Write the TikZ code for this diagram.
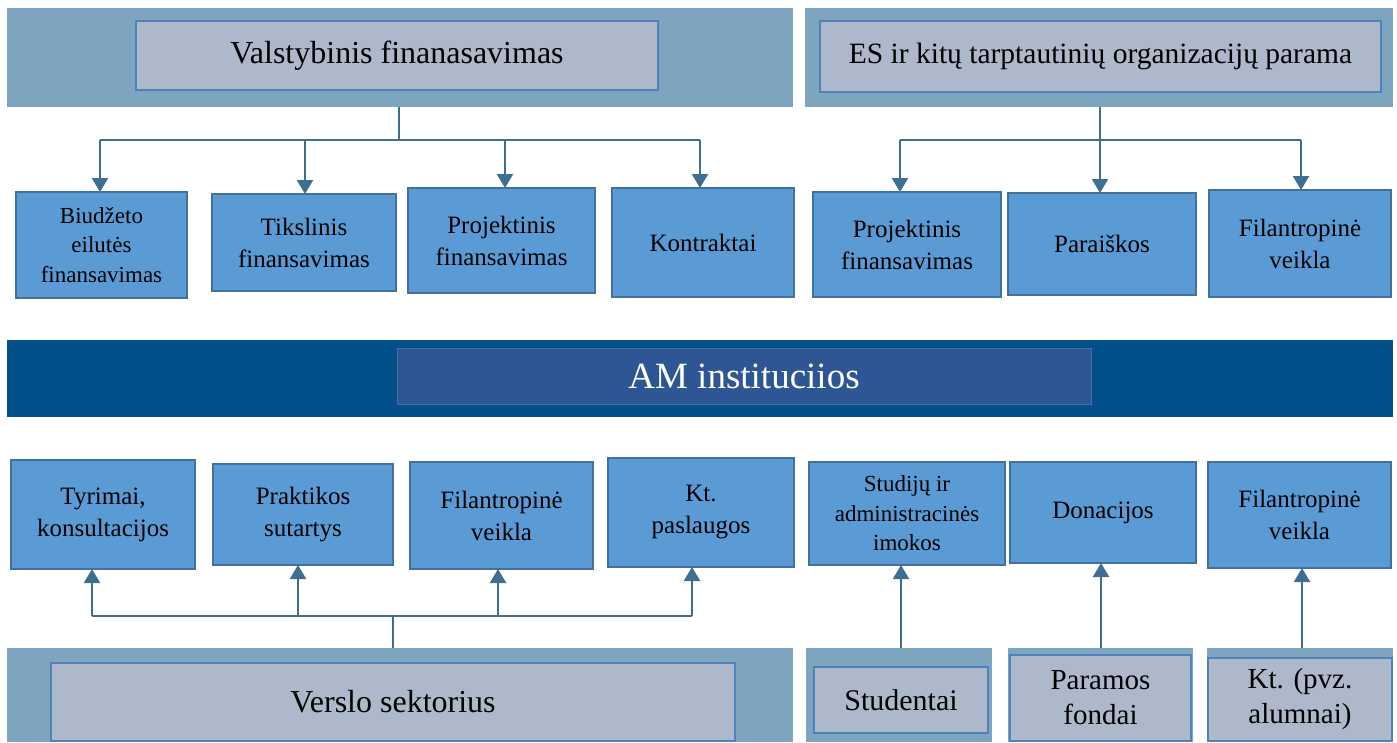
\documentclass[tikz,border=0pt]{standalone}
\usepackage{fontspec}
\setmainfont{Liberation Serif}
\usetikzlibrary{arrows.meta}
\definecolor{bandc}{RGB}{126,165,192}
\definecolor{grayc}{RGB}{173,185,202}
\definecolor{grayb}{RGB}{79,129,189}
\definecolor{bluec}{RGB}{91,155,213}
\definecolor{blueb}{RGB}{65,113,156}
\definecolor{darkc}{RGB}{2,80,138}
\definecolor{darkin}{RGB}{46,85,148}
\definecolor{darkinb}{RGB}{70,110,170}
\definecolor{linec}{RGB}{62,110,145}
\newcommand\rbox[7]{\node[#6, minimum width={(#4-#2)*1pt}, minimum height={(#5-#3)*1pt}] (#1) at ({(#2+#4)/2},{(#3+#5)/2}) {#7};}
\tikzset{
  base/.style={rectangle, inner sep=0pt, outer sep=0pt, align=center, text=black},
  band/.style={base, fill=bandc, draw=none},
  graybox/.style={base, fill=grayc, draw=grayb, line width=1.5pt},
  bluebox/.style={base, fill=bluec, draw=blueb, line width=1.5pt, font=\fontsize{25}{32}\selectfont},
  smallbox/.style={bluebox, font=\fontsize{23}{29.5}\selectfont},
  conn/.style={draw=linec, line width=2.2pt},
  arr/.style={conn, -{Triangle[width=16pt,length=14pt]}},
}
\begin{document}
\begin{tikzpicture}[x=1pt,y=-1pt]
\useasboundingbox (0,0) rectangle (1397,742);
% top bands
\rbox{bandL}{7}{8}{793}{107}{band}{}
\rbox{bandR}{805}{8}{1393}{107}{band}{}
\rbox{vf}{136}{21}{658}{90}{graybox, font=\fontsize{32}{38}\selectfont}{Valstybinis finanasavimas}
\rbox{es}{820}{21}{1381}{92}{graybox, font=\fontsize{29.5}{36}\selectfont}{ES ir kitų tarptautinių organizacijų parama}
% top row boxes
\rbox{b1}{16}{192}{187}{298}{smallbox}{Biudžeto\\eilutės\\finansavimas}
\rbox{b2}{212}{194}{396}{291}{bluebox}{Tikslinis\\finansavimas}
\rbox{b3}{408}{188}{595}{293}{bluebox}{Projektinis\\finansavimas}
\rbox{b4}{612}{188}{794}{297}{bluebox}{Kontraktai}
\rbox{b5}{813}{192}{1001}{297}{bluebox}{Projektinis\\finansavimas}
\rbox{b6}{1008}{193}{1196}{295}{bluebox}{Paraiškos}
\rbox{b7}{1209}{190}{1391}{297}{bluebox}{Filantropinė\\veikla}
% AM band
\rbox{amband}{7}{340}{1393}{417}{base, fill=darkc}{}
\rbox{am}{397}{348}{1091}{404}{base, fill=darkin, draw=darkinb, line width=1pt, text=white, font=\fontsize{37}{44}\selectfont}{AM instituciios}
% bottom row boxes
\rbox{c1}{11}{460}{195}{569}{bluebox}{Tyrimai,\\konsultacijos}
\rbox{c2}{213}{464}{393}{565}{bluebox}{Praktikos\\sutartys}
\rbox{c3}{410}{462}{593}{569}{bluebox}{Filantropinė\\veikla}
\rbox{c4}{608}{458}{794}{567}{bluebox}{Kt.\\paslaugos}
\rbox{c5}{809}{462}{1005}{565}{smallbox}{Studijų ir\\administracinės\\imokos}
\rbox{c6}{1010}{462}{1196}{563}{bluebox}{Donacijos}
\rbox{c7}{1208}{462}{1391}{568}{bluebox}{Filantropinė\\veikla}
% bottom bands
\rbox{bandV}{7}{648}{793}{742}{band}{}
\rbox{vs}{51}{663}{735}{741}{graybox, font=\fontsize{32}{38}\selectfont}{Verslo sektorius}
\rbox{bandS}{806}{648}{992}{742}{band}{}
\rbox{st}{814}{667}{988}{733}{graybox, font=\fontsize{30}{36}\selectfont}{Studentai}
\rbox{bandP}{1008}{648}{1193}{742}{band}{}
\rbox{pf}{1010}{655}{1191}{741}{graybox, font=\fontsize{29}{35}\selectfont}{Paramos\\fondai}
\rbox{bandK}{1207}{648}{1393}{742}{band}{}
\rbox{kt}{1208}{658}{1392}{741}{graybox, font=\fontsize{29}{35}\selectfont}{Kt. (pvz.\\alumnai)}
% top-left connectors
\coordinate (t1) at (100,140);
\coordinate (t2) at (305,140);
\coordinate (t3) at (505,140);
\coordinate (t4) at (700,140);
\coordinate (tj) at (399,140);
\draw[conn] (tj |- bandL.south) -- (tj);
\draw[conn] (t1) -- (t4);
\draw[arr] (t1) -- (t1 |- b1.north);
\draw[arr] (t2) -- (t2 |- b2.north);
\draw[arr] (t3) -- (t3 |- b3.north);
\draw[arr] (t4) -- (t4 |- b4.north);
% top-right connectors
\coordinate (r1) at (900,140);
\coordinate (r2) at (1100,140);
\coordinate (r3) at (1301,140);
\draw[conn] (r1) -- (r3);
\draw[arr] (r1) -- (r1 |- b5.north);
\draw[arr] (r2 |- bandR.south) -- (r2 |- b6.north);
\draw[arr] (r3) -- (r3 |- b7.north);
% bottom-left connectors
\coordinate (s1) at (92,616);
\coordinate (s2) at (298,616);
\coordinate (s3) at (498,616);
\coordinate (s4) at (692,616);
\coordinate (sj) at (393,616);
\draw[conn] (sj |- bandV.north) -- (sj);
\draw[conn] (s1) -- (s4);
\draw[arr] (s1) -- (s1 |- c1.south);
\draw[arr] (s2) -- (s2 |- c2.south);
\draw[arr] (s3) -- (s3 |- c3.south);
\draw[arr] (s4) -- (s4 |- c4.south);
% bottom-right connectors
\coordinate (u1) at (901,0);
\coordinate (u2) at (1101,0);
\coordinate (u3) at (1302,0);
\draw[arr] (u1 |- bandS.north) -- (u1 |- c5.south);
\draw[arr] (u2 |- bandP.north) -- (u2 |- c6.south);
\draw[arr] (u3 |- bandK.north) -- (u3 |- c7.south);
\end{tikzpicture}
\end{document}
